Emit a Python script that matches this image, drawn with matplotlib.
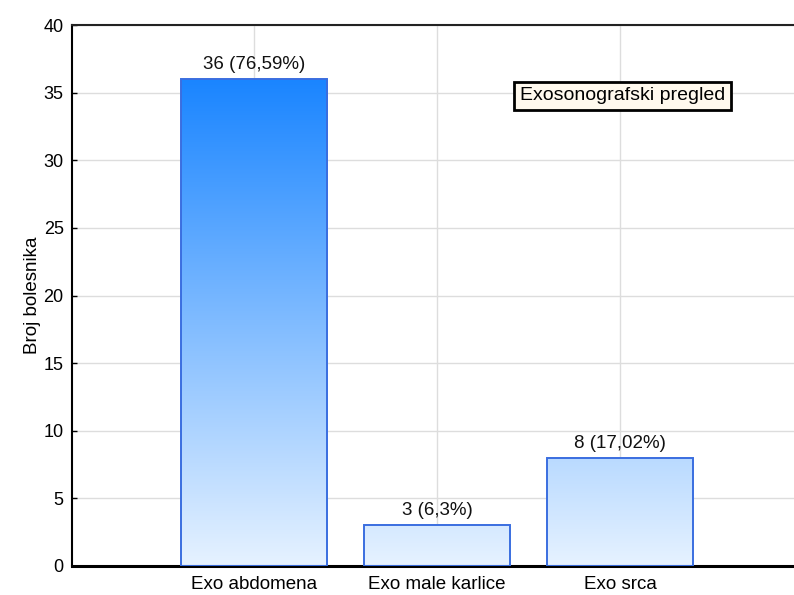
import numpy as np
import matplotlib
matplotlib.use("Agg")
import matplotlib.pyplot as plt
from matplotlib.colors import LinearSegmentedColormap

plt.rcParams['font.family'] = ['Liberation Sans', 'DejaVu Sans']

categories = ["Exo abdomena", "Exo male karlice", "Exo srca"]
counts = [36, 3, 8]
bar_labels = ["36 (76,59%)", "3 (6,3%)", "8 (17,02%)"]
yticks = [0, 5, 10, 15, 20, 25, 30, 35, 40]
legend_text = "Exosonografski pregled"

fig = plt.figure(figsize=(7.94, 5.95), dpi=100)
ax = fig.add_axes([72 / 794, 29 / 595, 1 - 72 / 794, (566 - 25) / 595])

cmap = LinearSegmentedColormap.from_list("grad", ["#E6F2FF", "#1A85FF"])
x = np.arange(len(categories))
vmax = max(counts)

bars = ax.bar(x, counts, width=0.8, facecolor="none", edgecolor="#3A6EE0",
              linewidth=1.4, zorder=3)
grad = np.linspace(0, 1, 256).reshape(-1, 1)
for b in bars:
    x0, w, h = b.get_x(), b.get_width(), b.get_height()
    im = ax.imshow(grad, cmap=cmap, vmin=0, vmax=1, origin="lower",
                   extent=[x0, x0 + w, 0, vmax], aspect="auto", zorder=2)
    im.set_clip_path(b)

for xi, c, lab in zip(x, counts, bar_labels):
    ax.text(xi, c + 0.45, lab, ha="center", va="bottom", fontsize=13.5, color="#111111")

ax.set_xlim(-0.995, 2.95)
ax.set_ylim(0, 40)
ax.set_xticks(x)
ax.set_xticklabels(categories, fontsize=13.5)
ax.set_yticks(yticks)
ax.set_yticklabels([str(t) for t in yticks], fontsize=13)
ax.tick_params(direction="in", length=3.5, width=1)
ax.tick_params(axis="y", pad=6)
ax.tick_params(axis="x", pad=7)
ax.set_ylabel("Broj bolesnika", fontsize=13.5, labelpad=2)

ax.grid(True, color="#DDDDDD", linewidth=1, zorder=0)
ax.set_axisbelow(True)

ax.spines["right"].set_visible(False)
ax.spines["left"].set_linewidth(1.5)
ax.spines["bottom"].set_linewidth(2.2)
ax.spines["top"].set_linewidth(1.5)
ax.spines["top"].set_color("#222222")

ax.text(0.763, 0.869, legend_text, transform=ax.transAxes, ha="center", va="center",
        fontsize=14, zorder=5,
        bbox=dict(boxstyle="square,pad=0.3", facecolor="#FFF9EE", edgecolor="black", linewidth=2))

plt.savefig("out.png", dpi=100)
